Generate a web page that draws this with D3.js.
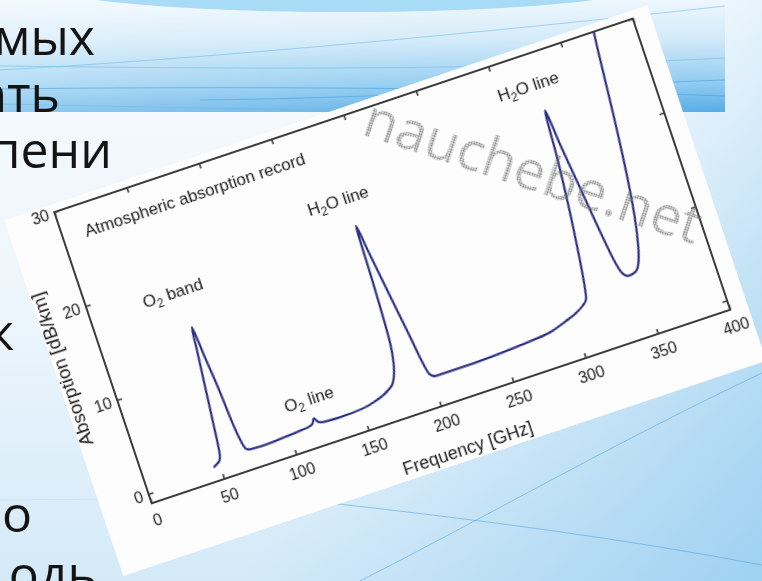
<!DOCTYPE html>
<html>
<head>
<meta charset="utf-8">
<script src="https://cdn.jsdelivr.net/npm/d3@7"></script>
<style>
  body { margin: 0; overflow: hidden; background: #f2f8fd; }
</style>
</head>
<body>
<div id="slide"></div>
<script>
// absorption record
const freq = [46, 48.5, 51, 52.5, 55, 57.5, 60, 61.6, 63.5, 65.4, 67, 68.5, 70.2, 73, 80, 90, 100, 108,
  114, 116.5, 118.5, 120, 122, 126, 135, 150, 160, 166, 170, 175, 178, 180, 182, 183.5, 184.7,
  187, 190, 193, 195.3, 197.5, 199.5, 203, 210, 225, 248, 265, 283, 296, 303, 309, 312.5,
  315, 318, 321, 324, 326.4, 328.5, 332, 335.5, 338, 340.7, 344, 348, 352, 356, 360, 364, 368, 372, 375];
const absorption = [0.45, 0.65, 0.9, 1.5, 4.8, 8.5, 12.2, 14.6, 11.2, 7.9, 4.0, 2.0, 1.15, 1.0, 0.95, 1.0, 1.1, 1.2,
  1.3, 1.45, 1.95, 1.55, 1.35, 1.25, 1.2, 1.3, 1.6, 1.9, 2.2, 2.8, 3.8, 5.0, 7.5, 13, 19,
  16.3, 12.8, 9.3, 6.7, 4.0, 2.5, 2.1, 2.1, 2.1, 2.2, 2.35, 2.6, 3.2, 3.6, 4.1, 4.6,
  6.5, 10, 14, 19, 24, 20.5, 15.5, 10.5, 7.5, 5.9, 5.5, 5.6, 6.2, 8.0, 11, 15.5, 21.5, 28.5, 33];
const xTicks = [0, 50, 100, 150, 200, 250, 300, 350, 400];
const yTicks = [0, 10, 20, 30];
const annoText = ["Atmospheric absorption record", "O|2| band", "H|2|O line", "O|2| line", "H|2|O line"];
const annoFreq = [15, 36.4, 158, 102.7, 300];
const annoAbs = [26.6, 17.9, 21.4, 3.3, 26.3];
const slideWords = ["мых", "ать", "пени", "к", "о", "одь"];

const W = 762, H = 581;
const svg = d3.select("#slide").append("svg").attr("width", W).attr("height", H);
const defs = svg.append("defs");

function linGrad(id, x1, y1, x2, y2, stops, user) {
  const g = defs.append("linearGradient").attr("id", id)
    .attr("x1", x1).attr("y1", y1).attr("x2", x2).attr("y2", y2);
  if (user) g.attr("gradientUnits", "userSpaceOnUse");
  stops.forEach(s => g.append("stop").attr("offset", s[0]).attr("stop-color", s[1]).attr("stop-opacity", s[2] == null ? 1 : s[2]));
}
linGrad("bgV", 0, 0, 0, 1, [[0, "#f6fbfe"], [0.5, "#eef6fc"], [1, "#d4eaf8"]]);
linGrad("bgBR", 420, 330, 762, 581, [[0, "#a4d4f2", 0], [1, "#9fd1f1", 1]], true);
linGrad("hdV", 0, 0, 0, 1, [[0, "#eef7fd"], [0.35, "#d2eaf9"], [0.75, "#8ecbf0"], [1, "#58ade6"]]);
linGrad("hdH", 0, 0, 1, 0, [[0, "#ffffff", 0.35], [0.6, "#ffffff", 0.08], [1, "#ffffff", 0]]);

const soft = defs.append("filter").attr("id", "soft");
soft.append("feGaussianBlur").attr("stdDeviation", 0.55);

const dots = defs.append("pattern").attr("id", "dots").attr("patternUnits", "userSpaceOnUse")
  .attr("width", 2.5).attr("height", 2.5);
dots.append("circle").attr("cx", 1.25).attr("cy", 1.25).attr("r", 0.95).attr("fill", "#6a6a6a");

// slide background
svg.append("rect").attr("width", W).attr("height", H).attr("fill", "url(#bgV)");
svg.append("rect").attr("width", W).attr("height", H).attr("fill", "url(#bgBR)");

// header band
svg.append("rect").attr("width", 725).attr("height", 112).attr("fill", "url(#hdV)");
svg.append("rect").attr("width", 725).attr("height", 112).attr("fill", "url(#hdH)");
svg.append("ellipse").attr("cx", 345).attr("cy", -18).attr("rx", 310).attr("ry", 30).attr("fill", "#a7dbf6");

const deco = svg.append("g").attr("fill", "none").attr("stroke-width", 1);
["M0,70 C150,62 420,40 725,6", "M0,89 C250,86 500,88 725,96", "M0,66 C200,68 450,72 725,58",
 "M200,100 C400,98 600,84 725,80", "M0,104 C200,108 400,112 480,112"].forEach((d, i) =>
  deco.append("path").attr("d", d).attr("stroke", i % 2 ? "#3d9fdf" : "#6cb9ea").attr("opacity", 0.55));
["M360,581 C480,520 620,440 762,373", "M330,503 C480,520 620,538 762,565"].forEach(d =>
  deco.append("path").attr("d", d).attr("stroke", "#5aa9dc").attr("opacity", 0.6));
deco.append("path").attr("d", "M0,500 L110,499").attr("stroke", "#c9e2f3").attr("opacity", 0.8);

// slide text fragments (cut at the left edge)
const wordRight = [95, 60, 112, 14, 32, 97];
const wordBase = [55, 112, 168, 350, 532, 592];
svg.append("g").selectAll("text").data(slideWords).join("text")
  .attr("x", (d, i) => wordRight[i]).attr("y", (d, i) => wordBase[i])
  .attr("text-anchor", "end")
  .style("font-family", "'Open Sans', 'Noto Sans', sans-serif")
  .style("font-size", "50px").attr("fill", "#141414")
  .text(d => d);

// photographed chart, tilted
const pw = 610, ph = 307;
const chart = svg.append("g").attr("transform", "translate(151.7,503.3) rotate(-18.5)");
chart.append("rect").attr("x", -50).attr("y", -315).attr("width", 678).attr("height", 375)
  .attr("fill", "#fdfdfd");

const x = d3.scaleLinear().domain([0, 400]).range([0, pw]);
const y = d3.scaleLinear().domain([-1, 30]).range([0, -ph]);

defs.append("clipPath").attr("id", "frameClip").append("rect")
  .attr("x", 0).attr("y", -ph).attr("width", pw).attr("height", ph);

const plot = chart.append("g").attr("filter", "url(#soft)");
const font = "'Liberation Sans', Arial, sans-serif";

const line = d3.line().x(d => x(d[0])).y(d => y(d[1])).curve(d3.curveMonotoneX);
plot.append("path")
  .datum(freq.map((f, i) => [f, absorption[i]]))
  .attr("clip-path", "url(#frameClip)")
  .attr("fill", "none").attr("stroke", "#2b2e80").attr("stroke-width", 2.2)
  .attr("stroke-linejoin", "round")
  .attr("d", line);

function styleAxis(g) {
  g.select(".domain").remove();
  g.selectAll(".tick line").attr("stroke", "#3a3a3a").attr("stroke-width", 1.6);
  g.selectAll(".tick text").attr("fill", "#222").style("font-family", font).style("font-size", "16px");
}
plot.append("g")
  .call(d3.axisBottom(x).tickValues(xTicks).tickFormat(d3.format("d")).tickSize(-5).tickPadding(12))
  .call(styleAxis);
plot.append("g")
  .call(d3.axisLeft(y).tickValues(yTicks).tickSize(-5).tickPadding(6))
  .call(styleAxis);
plot.append("g").attr("transform", `translate(0,${-ph})`)
  .call(d3.axisTop(x).tickValues(xTicks).tickFormat("").tickSize(-5))
  .call(styleAxis);
plot.append("g").attr("transform", `translate(${pw},0)`)
  .call(d3.axisRight(y).tickValues(yTicks).tickFormat("").tickSize(-5))
  .call(styleAxis);

plot.append("rect").attr("x", 0).attr("y", -ph).attr("width", pw).attr("height", ph)
  .attr("fill", "none").attr("stroke", "#3a3a3a").attr("stroke-width", 2);

// annotations
annoText.forEach((t, i) => {
  const txt = plot.append("text").attr("x", x(annoFreq[i])).attr("y", y(annoAbs[i]))
    .attr("fill", "#1e1e1e").style("font-family", font).style("font-size", "17px");
  t.split("|").forEach((part, k) => {
    const ts = txt.append("tspan").text(part);
    if (k === 1) ts.attr("dy", 4).style("font-size", "12px");
    if (k === 2) ts.attr("dy", -4);
  });
});

plot.append("text").attr("x", x(208)).attr("y", 54)
  .attr("text-anchor", "middle").attr("fill", "#1e1e1e")
  .style("font-family", font).style("font-size", "18px")
  .text("Frequency  [GHz]");
plot.append("text").attr("transform", `translate(-36,${y(14.7)}) rotate(-90)`)
  .attr("text-anchor", "middle").attr("fill", "#1e1e1e")
  .style("font-family", font).style("font-size", "19px")
  .text("Absorption  [dB/km]");

// watermark
svg.append("text").attr("transform", "translate(360,134) rotate(18.3)")
  .attr("fill", "url(#dots)")
  .style("font-family", "'Open Sans', 'DejaVu Sans', sans-serif")
  .style("font-size", "55px")
  .text("nauchebe.net");
</script>
</body>
</html>
